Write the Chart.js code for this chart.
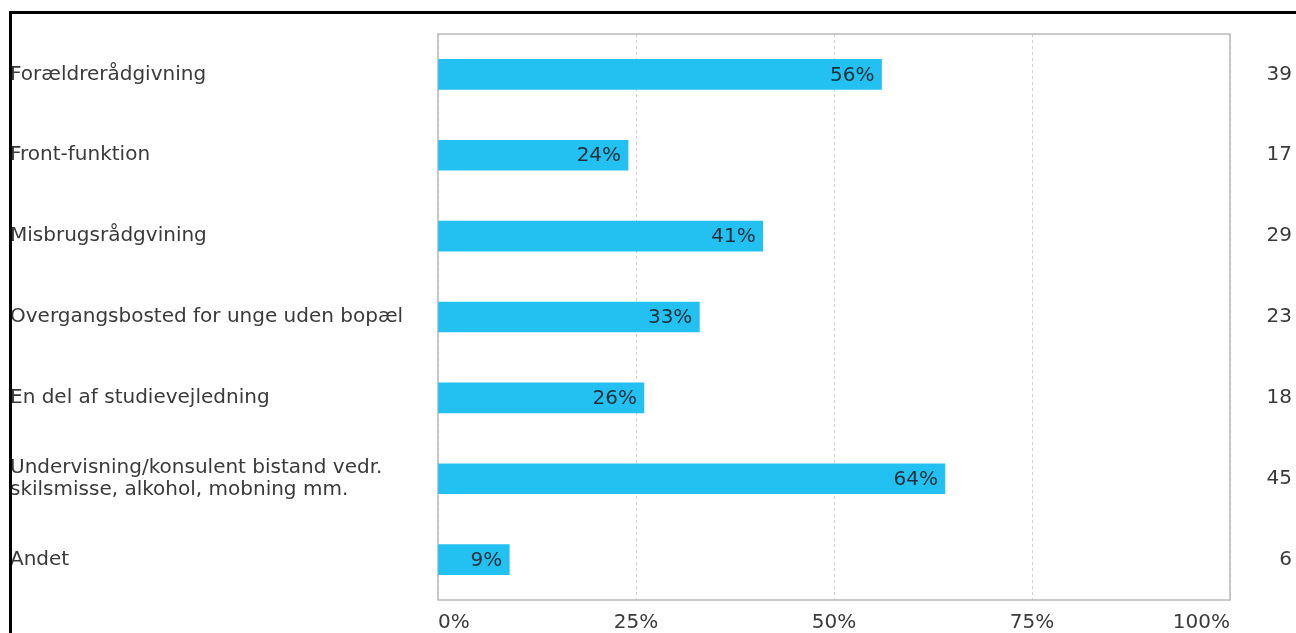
<!DOCTYPE html>
<html>
<head>
<meta charset="utf-8">
<script src="https://cdn.jsdelivr.net/npm/chart.js@4/dist/chart.umd.min.js"></script>
<style>
  html, body { margin: 0; padding: 0; background: #fff; overflow: hidden; }
  #wrap { position: relative; width: 1296px; height: 633px; }
  #frame { position: absolute; left: 9px; top: 11px; width: 1400px; height: 700px;
           border-top: 3px solid #000; border-left: 3px solid #000; box-sizing: border-box; pointer-events: none; }
  canvas { position: absolute; left: 0; top: 0; }
</style>
</head>
<body>
<div id="wrap">
  <canvas id="c" width="1296" height="633"></canvas>
  <div id="frame"></div>
</div>
<script>
// Answer options, share of respondents (%) and number of respondents
const categories = [
  'Forældrerådgivning',
  'Front-funktion',
  'Misbrugsrådgvining',
  'Overgangsbosted for unge uden bopæl',
  'En del af studievejledning',
  ['Undervisning/konsulent bistand vedr.', 'skilsmisse, alkohol, mobning mm.'],
  'Andet'
];
const percentValues = [56, 24, 41, 33, 26, 64, 9];
const respondentCounts = [39, 17, 29, 23, 18, 45, 6];
const xTickValues = [0, 25, 50, 75, 100];

const FONT = { family: '"DejaVu Sans", Verdana, sans-serif', size: 20, lineHeight: 1.1 };
const TEXT = '#3a3a3a';

// Solid frame around the plotting area
const plotFrame = {
  id: 'plotFrame',
  beforeDatasetsDraw(chart) {
    const { ctx, chartArea: a } = chart;
    ctx.save();
    ctx.strokeStyle = '#b9b9b9';
    ctx.lineWidth = 1.5;
    ctx.strokeRect(a.left, a.top, a.right - a.left, a.bottom - a.top);
    ctx.restore();
  }
};

// Percentage written inside the end of each bar
const barValueLabels = {
  id: 'barValueLabels',
  afterDatasetsDraw(chart) {
    const { ctx } = chart;
    const meta = chart.getDatasetMeta(0);
    ctx.save();
    ctx.font = `${FONT.size}px ${FONT.family}`;
    ctx.fillStyle = '#1f2f3a';
    ctx.textAlign = 'right';
    ctx.textBaseline = 'middle';
    meta.data.forEach((bar, i) => {
      ctx.fillText(percentValues[i] + '%', bar.x - 7, bar.y + 1);
    });
    ctx.restore();
  }
};

new Chart(document.getElementById('c'), {
  type: 'bar',
  data: {
    labels: categories,
    datasets: [{
      data: percentValues,
      backgroundColor: '#22c1f1',
      borderWidth: 0,
      barThickness: 30,
      yAxisID: 'y'
    }]
  },
  options: {
    indexAxis: 'y',
    responsive: false,
    animation: false,
    devicePixelRatio: 1,
    layout: { padding: { left: 10, right: 4, top: 34, bottom: 0 } },
    plugins: { legend: { display: false }, tooltip: { enabled: false } },
    scales: {
      x: {
        min: 0,
        max: 100,
        afterBuildTicks(scale) { scale.ticks = xTickValues.map(v => ({ value: v })); },
        afterFit(scale) { scale.height = 33; },
        grid: {
          color: '#cfcfcf',
          lineWidth: 1,
          drawTicks: false
        },
        border: { display: false, dash: [3, 3] },
        ticks: {
          align: 'inner',
          padding: 12,
          color: TEXT,
          font: FONT,
          callback: v => v + '%'
        }
      },
      y: {
        position: 'left',
        offset: true,
        afterFit(scale) { scale.width = 428; },
        grid: { display: false, offset: true },
        border: { display: false },
        ticks: { crossAlign: 'far', color: TEXT, font: FONT, padding: 0, autoSkip: false }
      },
      yRight: {
        type: 'category',
        position: 'right',
        labels: respondentCounts.map(String),
        offset: true,
        afterFit(scale) { scale.width = 62; },
        grid: { display: false, offset: true },
        border: { display: false },
        ticks: { crossAlign: 'far', color: TEXT, font: FONT, padding: 0, autoSkip: false }
      }
    }
  },
  plugins: [plotFrame, barValueLabels]
});
</script>
</body>
</html>
